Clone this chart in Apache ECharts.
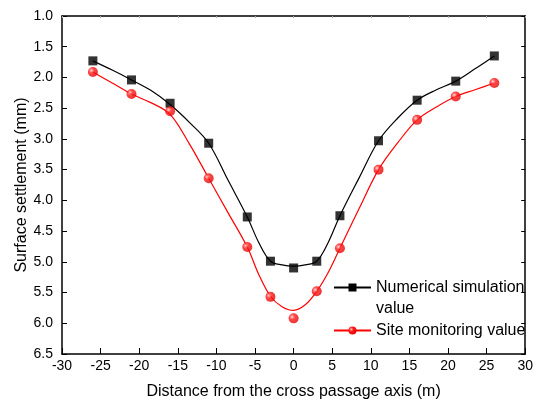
<!DOCTYPE html>
<html>
<head>
    <meta charset="utf-8">
    <title>ECharts</title>
    <script src="https://cdn.jsdelivr.net/npm/echarts@6/dist/echarts.min.js"></script>
</head>
<body style="margin:0">
    <div id="main" style="width:536px;height:405px;"></div>
    <script type="text/javascript">
        // distance from the axis (m)
        var distances = [-26, -21, -16, -11, -6, -3, 0, 3, 6, 11, 16, 21, 26];
        // measured points (mm)
        var simValues = [1.73, 2.04, 2.42, 3.07, 4.27, 4.99, 5.10, 4.99, 4.25, 3.03, 2.37, 2.06, 1.65];
        var monValues = [1.91, 2.27, 2.55, 3.64, 4.76, 5.57, 5.92, 5.48, 4.78, 3.50, 2.69, 2.31, 2.09];
        // fitted curves
        var curveX   = [-26, -23.5, -21, -18.5, -16, -13.5, -11, -8.5, -6, -4.5, -3, -1.5, 0, 1.5, 3, 4.5, 6, 8.5, 11, 13.5, 16, 18.5, 21, 23.5, 26];
        var simCurve = [1.73, 1.88, 2.04, 2.21, 2.44, 2.73, 3.07, 3.67, 4.27, 4.69, 4.99, 5.05, 5.07, 5.05, 4.99, 4.68, 4.25, 3.63, 3.03, 2.66, 2.37, 2.20, 2.06, 1.86, 1.65];
        var monCurve = [1.91, 2.09, 2.27, 2.41, 2.60, 3.08, 3.64, 4.20, 4.76, 5.21, 5.56, 5.73, 5.79, 5.70, 5.48, 5.17, 4.78, 4.13, 3.50, 3.06, 2.69, 2.48, 2.31, 2.20, 2.09];

        var simName = 'Numerical simulation';
        var monName = 'Site monitoring value';

        function pairs(xs, ys) {
            var out = [];
            for (var i = 0; i < xs.length; i++) {
                out.push([xs[i], ys[i]]);
            }
            return out;
        }

        var redBall = {
            type: 'radial', x: 0.35, y: 0.35, r: 0.75,
            colorStops: [
                {offset: 0, color: '#ffd0d0'},
                {offset: 0.35, color: '#ff1a1a'},
                {offset: 1, color: '#e00000'}
            ]
        };

        var font = 'Arial, "Liberation Sans", sans-serif';
        var myChart = echarts.init(document.getElementById('main'));

        var option = {
            animation: false,
            textStyle: {fontFamily: font},
            grid: {left: 62, right: 4, top: 16, bottom: 51},
            legend: {
                orient: 'vertical',
                left: 333,
                top: 256,
                padding: 0,
                itemWidth: 37,
                itemHeight: 10,
                itemGap: 1,
                textStyle: {fontSize: 16, color: '#000', fontFamily: font, lineHeight: 21},
                // first entry wraps onto a second line, icon stays on the first
                formatter: function (name) {
                    return name === simName ? '\n' + name + '\nvalue' : name;
                },
                data: [simName, monName]
            },
            xAxis: [
                {
                    type: 'value',
                    min: -30, max: 30, interval: 5,
                    name: 'Distance from the cross passage axis (m)',
                    nameLocation: 'middle',
                    nameGap: 30,
                    nameMoveOverlap: false,
                    nameTextStyle: {fontSize: 16, color: '#000'},
                    axisLine: {onZero: false, lineStyle: {color: '#000', width: 1.5}},
                    axisTick: {inside: true, length: 6, lineStyle: {color: '#000'}},
                    axisLabel: {fontSize: 14, color: '#000', margin: 5},
                    splitLine: {show: false}
                },
                {
                    type: 'value',
                    position: 'top',
                    min: -30, max: 30, interval: 5,
                    axisLine: {onZero: false, lineStyle: {color: '#000', width: 1.5}},
                    axisTick: {inside: true, length: 2, lineStyle: {color: '#aaa'}},
                    axisLabel: {show: false},
                    splitLine: {show: false}
                }
            ],
            yAxis: [
                {
                    type: 'value',
                    inverse: true,
                    min: 1.0, max: 6.5, interval: 0.5,
                    name: 'Surface settlement (mm)',
                    nameLocation: 'middle',
                    nameGap: 32,
                    nameMoveOverlap: false,
                    nameTextStyle: {fontSize: 16, color: '#000'},
                    axisLine: {show: true, onZero: false, lineStyle: {color: '#000', width: 1.5}},
                    axisTick: {inside: true, length: 5, lineStyle: {color: '#000'}},
                    axisLabel: {fontSize: 14, color: '#000', margin: 9,
                        formatter: function (v) { return v.toFixed(1); }},
                    splitLine: {show: false}
                },
                {
                    type: 'value',
                    position: 'right',
                    inverse: true,
                    min: 1.0, max: 6.5, interval: 0.5,
                    axisLine: {show: true, onZero: false, lineStyle: {color: '#000', width: 1.5}},
                    axisTick: {inside: true, length: 4, lineStyle: {color: '#000'}},
                    axisLabel: {show: false},
                    splitLine: {show: false}
                }
            ],
            series: [
                {
                    name: simName,
                    type: 'line',
                    smooth: 0.35,
                    showSymbol: false,
                    symbol: 'rect',
                    symbolSize: 9,
                    itemStyle: {color: '#000'},
                    lineStyle: {color: '#000', width: 1.2},
                    data: pairs(curveX, simCurve)
                },
                {
                    name: monName,
                    type: 'line',
                    smooth: 0.35,
                    showSymbol: false,
                    symbol: 'circle',
                    symbolSize: 10,
                    itemStyle: {color: redBall},
                    lineStyle: {color: '#ff0000', width: 1.2},
                    data: pairs(curveX, monCurve)
                },
                {
                    name: 'sim points',
                    type: 'scatter',
                    symbol: 'rect',
                    symbolSize: 9,
                    itemStyle: {color: '#000'},
                    z: 5,
                    data: pairs(distances, simValues)
                },
                {
                    name: 'mon points',
                    type: 'scatter',
                    symbol: 'circle',
                    symbolSize: 10,
                    itemStyle: {color: redBall},
                    z: 5,
                    data: pairs(distances, monValues)
                }
            ]
        };

        myChart.setOption(option);
    </script>
</body>
</html>
